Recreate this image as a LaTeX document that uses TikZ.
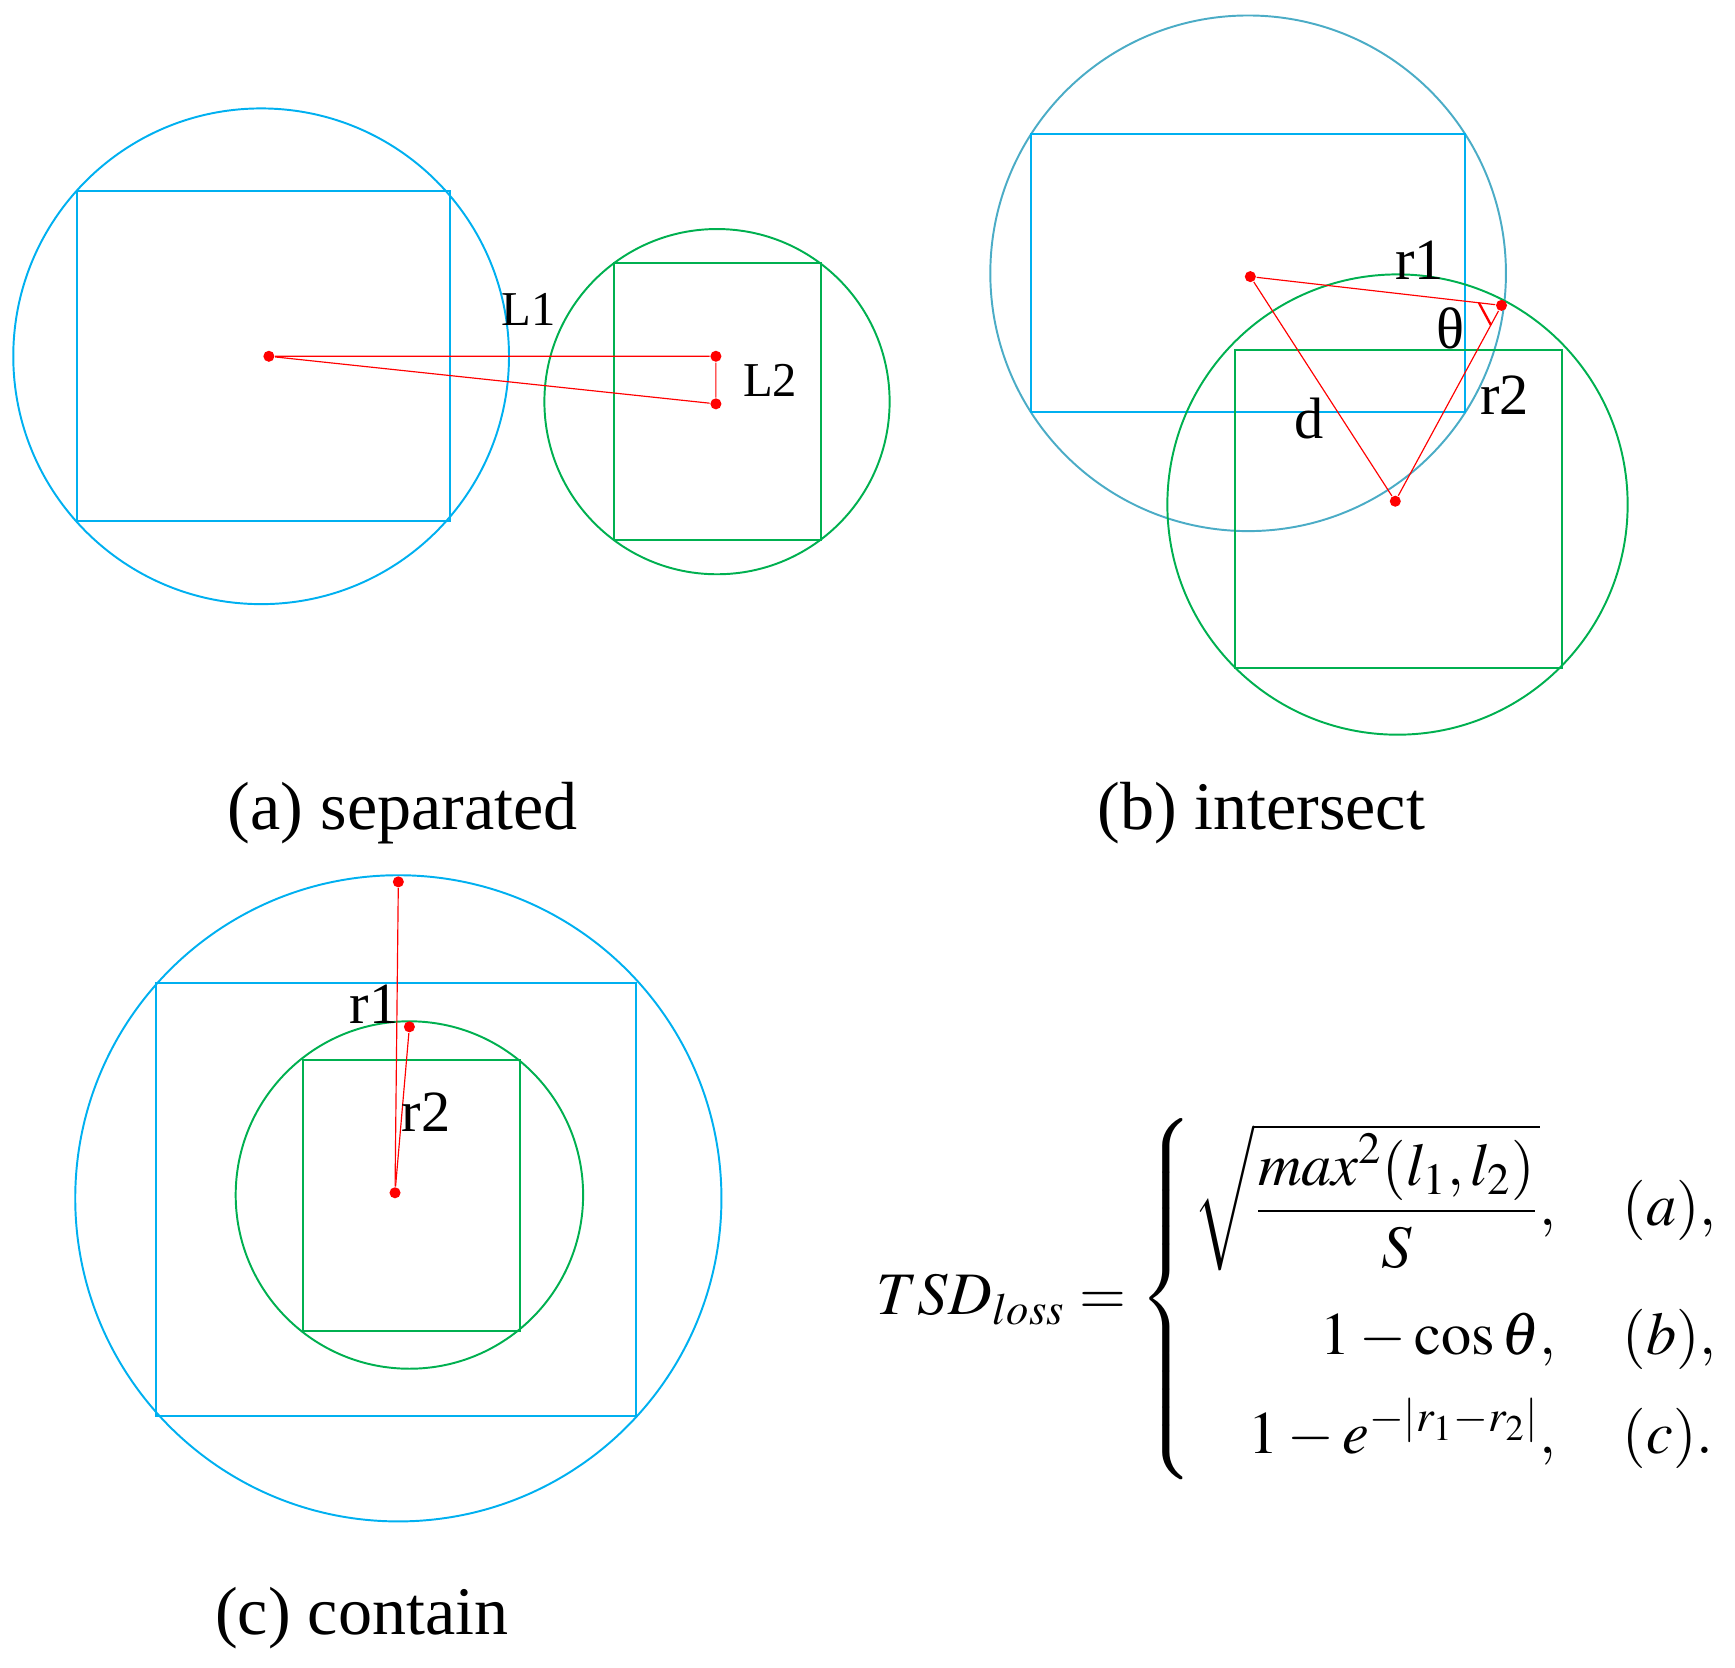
\documentclass[tikz,border=0pt]{standalone}
\usepackage{amsmath}
\usepackage{mathptmx}
\usepackage{fontspec}
\setmainfont{Liberation Serif}
\usetikzlibrary{calc}
\definecolor{boxblue}{RGB}{0,176,240}
\definecolor{ringblue}{RGB}{75,172,198}
\definecolor{boxgreen}{RGB}{0,176,80}

\begin{document}
\begin{tikzpicture}[x=0.01cm, y=-0.01cm,
  blueline/.style={draw=boxblue, line width=0.5pt},
  greenline/.style={draw=boxgreen, line width=0.5pt},
  redline/.style={draw=red, line width=0.3pt},
  rdot/.style={circle, fill=red, inner sep=0pt, minimum size=0.1cm},
  lbl/.style={font=\fontsize{15}{18}\selectfont, inner sep=0pt},
  captext/.style={font=\fontsize{17.5}{21}\selectfont}]
\useasboundingbox (0,0) rectangle (1568,1507);
% (a) separated
\draw[blueline] (236,322) circle (224);
\draw[blueline] (70,173) rectangle (407,471);
\draw[greenline] (648,363) circle (156);
\draw[greenline] (555,238) rectangle (742,488);
\node[rdot] (a1) at (243,322) {};
\node[rdot] (a2) at (647,322) {};
\node[rdot] (a3) at (647,365) {};
\draw[redline] (a1) -- (a2) -- (a3) -- (a1);
\node[lbl, font=\fontsize{12.5}{15}\selectfont] (l1) at (478,280) {L1};
\node[lbl, font=\fontsize{12.5}{15}\selectfont] (l2) at (696,344) {L2};
\node[captext] (capa) at (364,735) {(a) separated};
% (b) intersect
\draw[draw=ringblue, line width=0.5pt] (1128,247) circle (233);
\draw[blueline] (932,121) rectangle (1324,372);
\draw[greenline] (1263,456) circle (208);
\draw[greenline] (1116,316) rectangle (1412,604);
\node[rdot] (b1) at (1130,250) {};
\node[rdot] (b2) at (1357,276) {};
\node[rdot] (b3) at (1261,453) {};
\draw[redline] (b1) -- (b2) -- (b3) -- (b1);
\draw[redline, line width=0.6pt] ($(b2)!0.09!(b1)$) -- ($(b2)!0.1!(b3)$);
\node[lbl] (r1b) at (1283,235) {r1};
\node[lbl] (thb) at (1311,297) {θ};
\node[lbl] (r2b) at (1360,357) {r2};
\node[lbl] (db) at (1183,378) {d};
\node[captext] (capb) at (1140,735) {(b) intersect};
% (c) contain
\draw[blueline] (360,1083) circle (292);
\draw[blueline] (141,888) rectangle (575,1280);
\draw[greenline] (370,1080) circle (157);
\draw[greenline] (274,958) rectangle (470,1203);
\node[rdot] (c1) at (357,1078) {};
\node[rdot] (c2) at (360,797) {};
\node[rdot] (c3) at (370,928) {};
\draw[redline] (c1) -- (c2);
\draw[redline] (c1) -- (c3);
\node[lbl] (r1c) at (338,908) {r1};
\node[lbl] (r2c) at (385,1005) {r2};
\node[captext] (capc) at (327,1462) {(c) contain};
% loss
\node[font=\fontsize{15.5}{18}\selectfont] (tsd) at (1174,1174)
  {$TSD_{loss}=\left\{\begin{array}{@{}r@{\hskip 1.1em}l@{}}
   \sqrt{\dfrac{max^2(l_1,l_2)}{S}}, & (a),\\[15pt]
   1-\cos\theta, & (b),\\[6pt]
   1-e^{-|r_1-r_2|}, & (c).
   \end{array}\right.$};
\end{tikzpicture}
\end{document}
